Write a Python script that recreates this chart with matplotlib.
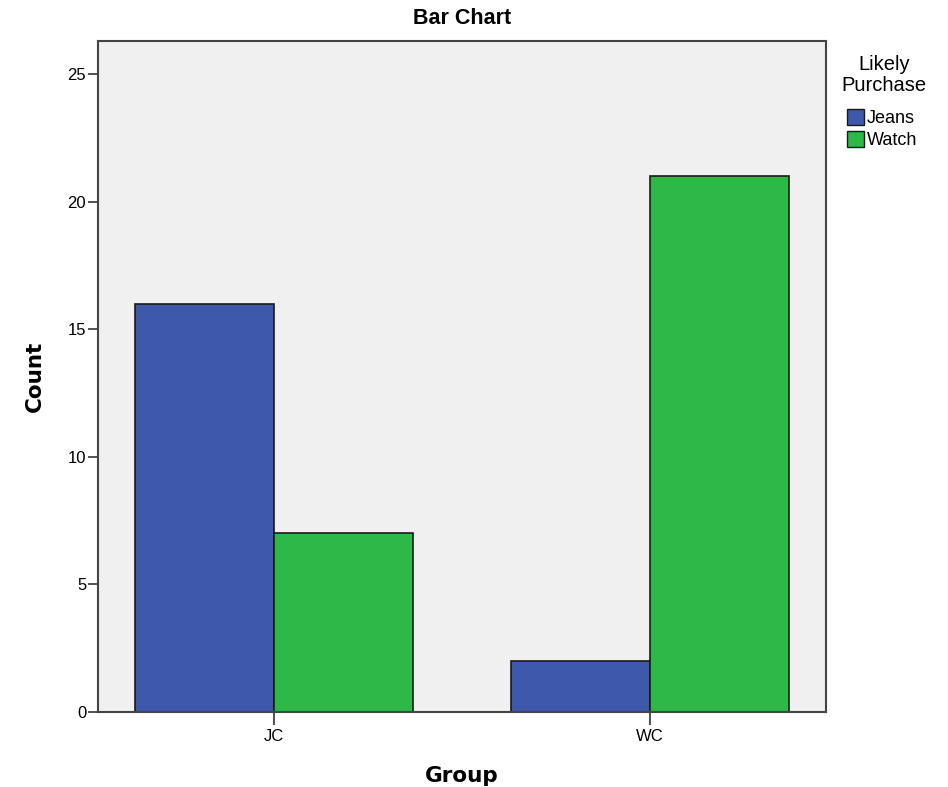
import matplotlib.pyplot as plt
import numpy as np
from matplotlib.patches import Patch

plt.rcParams['font.family'] = ['Liberation Sans', 'DejaVu Sans']

# data
groups = ['JC', 'WC']
series = ['Jeans', 'Watch']
jeans = [16, 2]
watch = [7, 21]
colors = ['#3E58AC', '#2EB848']

fig = plt.figure(figsize=(9.48, 7.87), dpi=100)
ax = fig.add_axes([0.1034, 0.0953, 0.7679, 0.8526])
ax.set_facecolor('#F0F0F0')

x = np.arange(len(groups))
w = 0.37
ax.bar(x - w / 2, jeans, w, color=colors[0], edgecolor='#1a1a1a', linewidth=1.2)
ax.bar(x + w / 2, watch, w, color=colors[1], edgecolor='#1a1a1a', linewidth=1.2)

ax.set_xlim(-0.468, 1.468)
ax.set_ylim(0, 26.3)
ax.set_yticks([0, 5, 10, 15, 20, 25])
ax.set_xticks(x)
ax.set_xticklabels(groups)
ax.tick_params(axis='both', labelsize=12, color='#333333', width=1.2)
ax.tick_params(axis='y', length=7.5, pad=1)
ax.tick_params(axis='x', length=9, pad=3)
for s in ax.spines.values():
    s.set_color('#444444')
    s.set_linewidth(1.5)

ax.set_xlabel('Group', fontsize=15.5, fontweight='bold', family=['DejaVu Sans'])
ax.set_ylabel('Count', fontsize=15.5, fontweight='bold', family=['DejaVu Sans'])
ax.xaxis.set_label_coords(0.5, -0.08)
ax.yaxis.set_label_coords(-0.073, 0.5)
fig.text(0.4873, 0.977, 'Bar Chart', ha='center', va='center', fontsize=15.5,
         fontweight='bold', family=['Liberation Sans'])

handles = [Patch(facecolor=c, edgecolor='#1a1a1a', label=l) for c, l in zip(colors, series)]
fig.text(0.9325, 0.9047, 'Likely\nPurchase', ha='center', va='center', fontsize=14.5, linespacing=1.1)
fig.legend(handles=handles, loc='upper left', bbox_to_anchor=(0.8935, 0.861), frameon=False,
           fontsize=13, handlelength=0.95, handleheight=0.95, handletextpad=0.15,
           labelspacing=0.22, borderaxespad=0, borderpad=0)

fig.savefig('out.png', dpi=100)
